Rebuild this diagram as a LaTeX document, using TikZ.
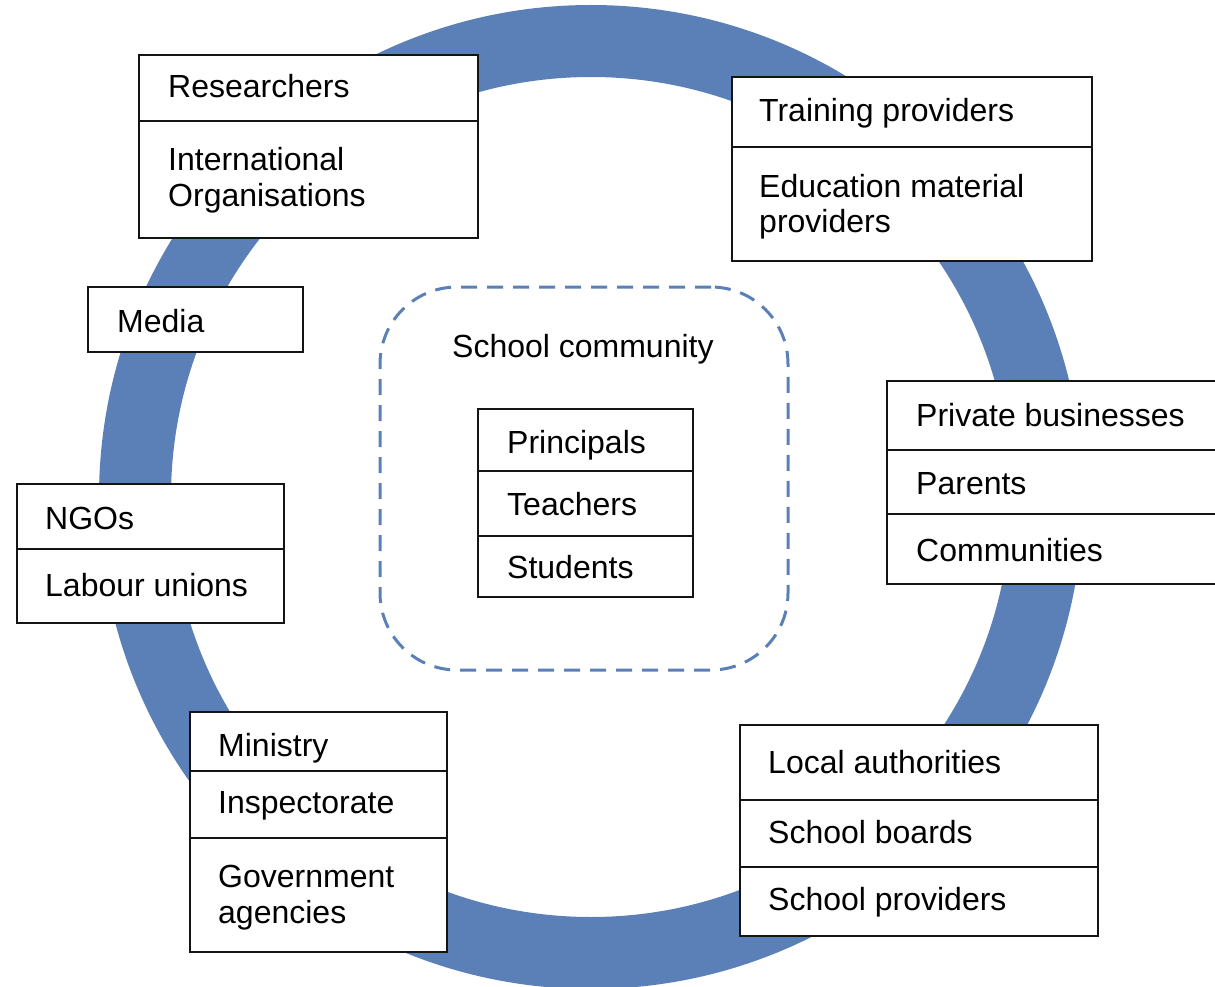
\documentclass[tikz,border=0pt]{standalone}
\usepackage{fontspec}
\setmainfont{Liberation Sans}
\usetikzlibrary{fit}
\definecolor{ringblue}{RGB}{90,128,183}
\definecolor{boxline}{RGB}{20,20,20}
\begin{document}
\begin{tikzpicture}[x=1pt,y=-1pt,
  cell/.style={draw=boxline, line width=2.8pt, fill=white, inner sep=0pt, rectangle},
  lbl/.style={anchor=base west, inner sep=0pt, font=\fontsize{32}{38}\selectfont, text=black},
  ring/.style={draw=ringblue, line width=72pt},
  community/.style={draw=ringblue, line width=3pt, dash pattern=on 16pt off 10pt, rounded corners=77pt, inner sep=0pt, rectangle}
]
\useasboundingbox (0,0) rectangle (1215,987);
% ring
\node[inner sep=0pt] (c) at (591,497) {};
\draw[ring] (c) circle (456pt);

% school community
\node[community, fit={(380,287) (788,670)}] (comm) {};
\node[lbl] (commlbl) at (452,357) {School community};
\node[cell, fit={(478,409) (693,471)}] (s1) {};
\node[cell, fit={(478,471) (693,536)}] (s2) {};
\node[cell, fit={(478,536) (693,597)}] (s3) {};
\node[lbl] (s1t) at (507,453) {Principals};
\node[lbl] (s2t) at (507,515) {Teachers};
\node[lbl] (s3t) at (507,578) {Students};

% researchers
\node[cell, fit={(139,55) (478,121)}] (r1) {};
\node[cell, fit={(139,121) (478,238)}] (r2) {};
\node[lbl] (r1t) at (168,98) {Researchers};
\node[lbl] (r2t) at (168,171) {International};
\node[lbl] (r2u) at (168,207) {Organisations};

% media
\node[cell, fit={(88,287) (303,352)}] (m1) {};
\node[lbl] (m1t) at (117,332) {Media};

% NGOs
\node[cell, fit={(17,484) (284,549)}] (n1) {};
\node[cell, fit={(17,549) (284,623)}] (n2) {};
\node[lbl] (n1t) at (45,529) {NGOs};
\node[lbl] (n2t) at (45,596) {Labour unions};

% ministry
\node[cell, fit={(190,712) (447,771)}] (g1) {};
\node[cell, fit={(190,771) (447,838)}] (g2) {};
\node[cell, fit={(190,838) (447,952)}] (g3) {};
\node[lbl] (g1t) at (218,756) {Ministry};
\node[lbl] (g2t) at (218,813) {Inspectorate};
\node[lbl] (g3t) at (218,887) {Government};
\node[lbl] (g3u) at (218,923) {agencies};

% local authorities
\node[cell, fit={(740,725) (1098,800)}] (l1) {};
\node[cell, fit={(740,800) (1098,867)}] (l2) {};
\node[cell, fit={(740,867) (1098,936)}] (l3) {};
\node[lbl] (l1t) at (768,773) {Local authorities};
\node[lbl] (l2t) at (768,843) {School boards};
\node[lbl] (l3t) at (768,910) {School providers};

% private businesses
\node[cell, fit={(887,381) (1230,450)}] (p1) {};
\node[cell, fit={(887,450) (1230,514)}] (p2) {};
\node[cell, fit={(887,514) (1230,584)}] (p3) {};
\node[lbl] (p1t) at (916,426) {Private businesses};
\node[lbl] (p2t) at (916,494) {Parents};
\node[lbl] (p3t) at (916,561) {Communities};

% training providers
\node[cell, fit={(732,77) (1092,147)}] (t1) {};
\node[cell, fit={(732,147) (1092,261)}] (t2) {};
\node[lbl] (t1t) at (759,122) {Training providers};
\node[lbl] (t2t) at (759,197) {Education material};
\node[lbl] (t2u) at (759,233) {providers};
\end{tikzpicture}
\end{document}
